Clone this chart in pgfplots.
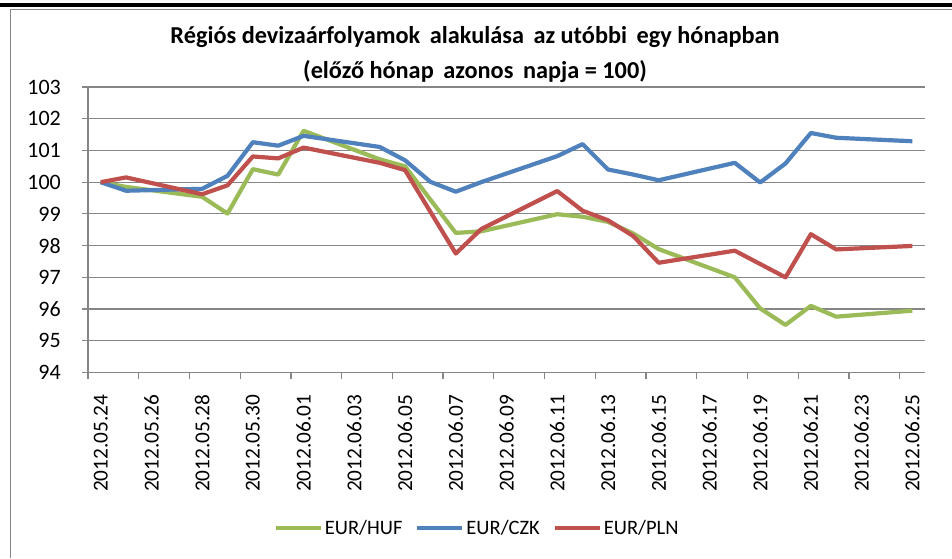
\documentclass[border=0pt]{standalone}
\usepackage{fontspec}
\setmainfont{Carlito}
\usepackage{pgfplots}
\pgfplotsset{compat=1.18}
\definecolor{huf}{HTML}{9BBB59}
\definecolor{czk}{HTML}{4F81BD}
\definecolor{pln}{HTML}{C0504D}
\definecolor{gridc}{HTML}{868686}
\begin{document}
\begin{tikzpicture}[x=1pt,y=1pt]
\useasboundingbox (0,0) rectangle (952,558);
\fill[white] (0,0) rectangle (952,558);
\fill[black] (0,551) rectangle (952,555);
\draw[gridc, line width=1.2pt] (10.5,0) -- (10.5,548.5) -- (952,548.5);
\node[font=\fontsize{24.3}{26}\selectfont\bfseries] at (475,521) {Régiós devizaárfolyamok\, alakulása\, az utóbbi\, egy hónapban};
\node[font=\fontsize{24.3}{26}\selectfont\bfseries] at (475,486) {(előző hónap\, azonos\, napja = 100)};
\begin{axis}[at={(88pt,185.5pt)}, anchor=south west, scale only axis,
  width=837pt, height=285.5pt,
  xmin=-0.5, xmax=32.5, ymin=94, ymax=103,
  axis x line=bottom, axis y line=left,
  axis line style={gridc, line width=1.2pt, -},
  ytick={94,...,103}, ymajorgrids, grid style={gridc, line width=1.2pt},
  xtick={-0.5,1.5,...,30.5}, xticklabels={},
  extra x ticks={0,2,...,32},
  extra x tick labels={2012.05.24,2012.05.26,2012.05.28,2012.05.30,2012.06.01,2012.06.03,2012.06.05,2012.06.07,2012.06.09,2012.06.11,2012.06.13,2012.06.15,2012.06.17,2012.06.19,2012.06.21,2012.06.23,2012.06.25},
  extra x tick style={major tick length=0pt, grid=none},
  tick align=outside, major tick length=6pt,
  tick style={gridc, line width=1.2pt},
  /pgf/number format/assume math mode=true,
  yticklabel style={font=\fontsize{22}{24}\selectfont, text=black, inner sep=0pt, anchor=east},
  xticklabel style={font=\fontsize{21.3}{23}\selectfont, text=black, rotate=90, anchor=east, inner sep=0pt, xshift=0pt},
  xticklabel shift=22pt,
  yticklabel shift=21pt,
  legend style={at={(0.465,-0.545)}, anchor=center, draw=none, fill=none,
    font=\fontsize{20.5}{22}\selectfont,
    /tikz/every even column/.append style={column sep=11pt}},
  legend columns=3,
  legend image code/.code={\draw[#1, line width=4pt] (0pt,0pt) -- (45pt,0pt);},
  every axis plot/.append style={line width=4.2pt, line join=round, no markers},
]
\addplot[huf] coordinates {(0,100) (1,99.85) (4,99.54) (5,99.01) (6,100.41) (7,100.24) (8,101.62) (11,100.72) (12,100.5) (14,98.40) (15,98.45) (18,98.99) (19,98.91) (20,98.75) (21,98.38) (22,97.89) (25,97.0) (26,96.02) (27,95.5) (28,96.1) (29,95.76) (32,95.95)};
\addlegendentry{EUR/HUF}
\addplot[czk] coordinates {(0,100) (1,99.73) (4,99.79) (5,100.2) (6,101.26) (7,101.15) (8,101.46) (11,101.11) (12,100.69) (13,100.01) (14,99.70) (15,100.0) (18,100.82) (19,101.2) (20,100.4) (21,100.24) (22,100.06) (25,100.61) (26,99.99) (27,100.59) (28,101.55) (29,101.4) (32,101.29)};
\addlegendentry{EUR/CZK}
\addplot[pln] coordinates {(0,100) (1,100.15) (4,99.62) (5,99.9) (6,100.81) (7,100.75) (8,101.09) (11,100.61) (12,100.38) (14,97.75) (15,98.52) (18,99.72) (19,99.1) (20,98.8) (21,98.3) (22,97.46) (25,97.84) (26,97.42) (27,97.0) (28,98.36) (29,97.88) (32,97.99)};
\addlegendentry{EUR/PLN}
\end{axis}
\end{tikzpicture}
\end{document}
